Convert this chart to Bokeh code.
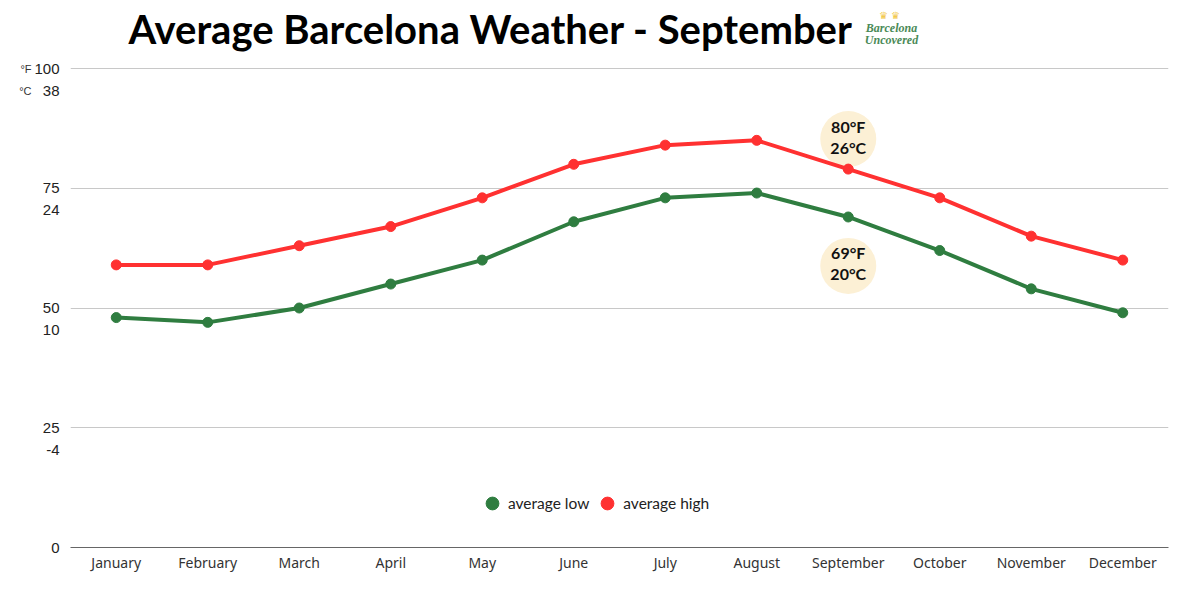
from bokeh.plotting import figure
from bokeh.models import (FactorRange, Range1d, FixedTicker, Label, Legend,
                          LegendItem, LinearAxis, AllLabels)
from bokeh.embed import file_html
from bokeh.resources import INLINE
from bokeh.core.properties import value

# ---------------- data ----------------
months = ["January", "February", "March", "April", "May", "June",
          "July", "August", "September", "October", "November", "December"]
avg_high_f = [59, 59, 63, 67, 73, 80, 84, 85, 79, 73, 65, 60]
avg_low_f = [48, 47, 50, 55, 60, 68, 73, 74, 69, 62, 54, 49]
f_ticks = [0, 25, 50, 75, 100]
c_ticks_f = [25, 50, 75, 100]
c_labels = ["-4", "10", "24", "38"]
unit_labels = ["°F", "°C"]
highlight_month = "September"
highlight_high = ["80°F", "26°C"]
highlight_low = ["69°F", "20°C"]
title_text = "Average Barcelona Weather - September"
logo_lines = ["Barcelona", "Uncovered"]

RED = "#ff3131"
GREEN = "#2f7d40"
BEIGE = "#fcf0d5"

# ---------------- layout ----------------
FW = 1098
PLOT_H = 479                 # px between 0 and 100 °F
TOP_PX = 68                  # px of room above the 100 line (inside frame)
FH = PLOT_H + TOP_PX
LEFT, RIGHT, BOTTOM = 70, 16, 37
PX_X = FW / len(months)
PX_Y = PLOT_H / 100.0
Y_END = 100 + TOP_PX / PX_Y


def dy(px):
    return px / PX_Y


def dx(px):
    return px / PX_X


def yimg(py):
    # vertical position given as px from the top of the canvas
    return (FH - py) / PX_Y


p = figure(x_range=FactorRange(factors=months), y_range=Range1d(0, Y_END),
           frame_width=FW, frame_height=FH,
           min_border_left=LEFT, min_border_right=RIGHT,
           min_border_top=0, min_border_bottom=BOTTOM,
           output_backend="svg", toolbar_location=None)
p.outline_line_color = None
p.background_fill_color = "white"
p.border_fill_color = "white"

# x axis
p.xaxis.axis_line_color = "#666666"
p.xaxis.axis_line_width = 1
p.xaxis.major_tick_line_color = None
p.xaxis.minor_tick_line_color = None
p.xaxis.major_label_text_font = "Noto Sans"
p.xaxis.major_label_text_font_size = "14px"
p.xaxis.major_label_text_color = "#333333"
p.xaxis.major_label_standoff = -1

# y axis: °F ticks plus °C labels just below each gridline
c_pos = [round(f - dy(22), 1) for f in c_ticks_f]
overrides = {f: str(f) for f in f_ticks}
overrides.update({cp: c for cp, c in zip(c_pos, c_labels)})
p.yaxis.ticker = FixedTicker(ticks=f_ticks + c_pos)
p.yaxis.major_label_overrides = overrides
p.yaxis.major_label_policy = AllLabels()
p.yaxis.axis_line_color = None
p.yaxis.major_tick_line_color = None
p.yaxis.minor_tick_line_color = None
p.yaxis.major_label_text_font = "Liberation Sans"
p.yaxis.major_label_text_font_size = "15px"
p.yaxis.major_label_text_color = "#222222"
p.yaxis.major_label_standoff = 5

# unit axis (°F / °C)
unit_axis = LinearAxis(ticker=FixedTicker(ticks=[100, c_pos[-1]]),
                       major_label_overrides={100: unit_labels[0], c_pos[-1]: unit_labels[1]},
                       major_label_policy=AllLabels(),
                       axis_line_color=None, major_tick_line_color=None,
                       minor_tick_line_color=None,
                       major_label_text_font="Liberation Sans",
                       major_label_text_font_size="11px",
                       major_label_text_color="#333333",
                       major_label_standoff=-6)
p.add_layout(unit_axis, "left")

p.xgrid.grid_line_color = None
p.ygrid.ticker = FixedTicker(ticks=f_ticks)
p.ygrid.grid_line_color = "#c8c8c8"
p.ygrid.grid_line_width = 1

# highlight bubbles (behind the lines)
i = months.index(highlight_month)
hi_center = avg_high_f[i] + dy(30)
lo_center = avg_low_f[i] - dy(49)
p.scatter(x=[highlight_month, highlight_month], y=[hi_center, lo_center],
          size=56, color=BEIGE, line_color=None)

# lines
p.line(months, avg_high_f, line_color=RED, line_width=4)
p.line(months, avg_low_f, line_color=GREEN, line_width=4)
hs = p.scatter(months, avg_high_f, size=10, color=RED)
ls = p.scatter(months, avg_low_f, size=10, color=GREEN)

# bubble texts
bx = [highlight_month] * 4
by = [hi_center + dy(13), hi_center - dy(8), lo_center + dy(13), lo_center - dy(8)]
btxt = highlight_high + highlight_low
p.text(x=bx, y=by, text=btxt, text_align="center", text_baseline="middle",
       text_font=value("Lato"), text_font_style="bold", text_font_size="16px",
       text_color="#111111")

# legend
legend = Legend(items=[LegendItem(label="average low", renderers=[ls]),
                       LegendItem(label="average high", renderers=[hs])],
                orientation="horizontal", location=(406, 28),
                border_line_color=None, background_fill_alpha=0,
                label_text_font="Lato", label_text_font_size="15.5px",
                label_text_color="#222222", glyph_width=32, glyph_height=32,
                label_standoff=-10, spacing=2, padding=0, margin=0)
p.add_layout(legend)

# title
p.add_layout(Label(x=dx(58), y=yimg(28), text=title_text, text_align="left",
                   text_baseline="alphabetic", text_font="Lato",
                   text_font_style="bold", text_font_size="40px",
                   text_color="#000000"))

# logo
p.add_layout(Label(x=dx(819), y=yimg(15), text="♛ ♛", text_align="center",
                   text_baseline="middle", text_font="DejaVu Sans",
                   text_font_size="10px", text_color="#f2c94c"))
p.add_layout(Label(x=dx(821), y=yimg(27), text=logo_lines[0], text_align="center",
                   text_baseline="middle", text_font="Liberation Serif",
                   text_font_style="bold italic", text_font_size="12px",
                   text_color="#4a8a57"))
p.add_layout(Label(x=dx(821), y=yimg(39), text=logo_lines[1], text_align="center",
                   text_baseline="middle", text_font="Liberation Serif",
                   text_font_style="bold italic", text_font_size="12px",
                   text_color="#4a8a57"))

open("out.html", "w").write(file_html(p, INLINE))
